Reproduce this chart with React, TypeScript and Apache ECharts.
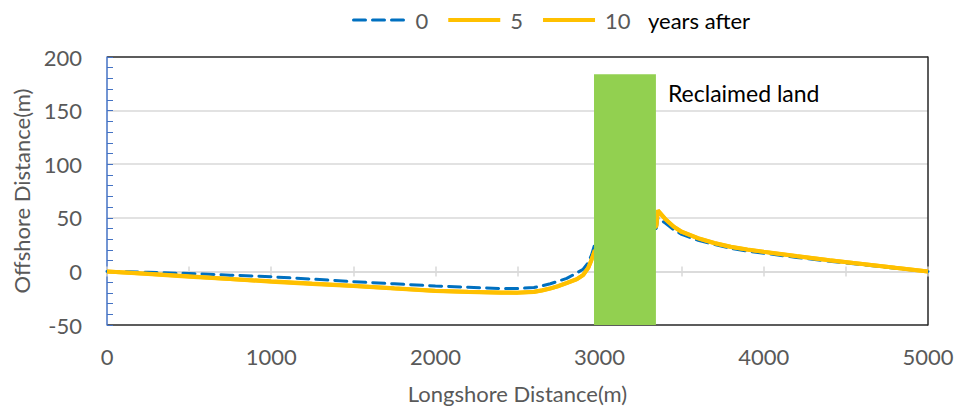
import React, { useEffect, useRef } from "react";
import * as echarts from "echarts";

const FONT = "Lato";

const longshore = [0, 250, 500, 750, 1000, 1250, 1500, 1750, 2000, 2200, 2400, 2500, 2600, 2650, 2700, 2750, 2800, 2860, 2900, 2930, 2950, 2970, 3345, 3355, 3400, 3450, 3500, 3600, 3700, 3800, 3900, 4000, 4200, 4400, 4600, 4800, 5000];
const year0 = [0, -0.8, -2, -3.5, -5, -7.2, -9.6, -11.6, -13.6, -14.8, -16, -16, -15, -13.5, -11.5, -9, -6.5, -1.5, 2, 8, 15, 25, 40, 50, 45, 39, 34.5, 29, 25, 21.5, 19, 17, 13, 9.5, 6.3, 3, 0];
const year5 = [0, -2.2, -4.6, -7, -9.3, -11.4, -13.3, -15.7, -18, -19, -19.7, -19.8, -19, -17.6, -15.8, -13.6, -10.8, -7.3, -3.3, 3.2, 10.5, 19, 42, 56.5, 48.7, 41.8, 36.8, 30.8, 26.3, 22.8, 20.3, 18.2, 14.1, 10.3, 6.9, 3.4, 0];
const year10 = [0, -2.4, -4.9, -7.2, -9.6, -11.7, -13.6, -16, -18.3, -19.3, -20, -20, -19.2, -17.8, -16, -13.8, -11, -7.5, -3.5, 3, 10.5, 19, 42, 57, 49, 42, 37, 31, 26.5, 23, 20.5, 18.4, 14.3, 10.5, 7, 3.5, 0];

const land = [2966, 3343, -50, 184];
const landLabel = "Reclaimed land";
const legendNames = ["0", "5", "10"];
const legendSuffix = "years after";

const BLUE = "#0070C0";
const YELLOW = "#FFC000";
const DASH = [12, 7];
const legendWidths = [3, 4, 4];

const pairs = (ys: number[]) => longshore.map((x, i) => [x, ys[i]]);

export default function App() {
  const ref = useRef<HTMLDivElement>(null);
  useEffect(() => {
    document.body.style.margin = "0";
    const chart = echarts.init(ref.current!, null, { renderer: "svg" });
    const labelStyle = { fontFamily: FONT, fontSize: 22, color: "#595959" };
    chart.setOption({
      animation: false,
      textStyle: { fontFamily: FONT },
      title: {
        text: legendSuffix,
        left: 648,
        top: 9,
        padding: 0,
        textStyle: { fontFamily: FONT, fontSize: 22, color: "#000", fontWeight: "normal" },
      },
      legend: {
        data: legendNames.map((n, i) => ({ name: n, lineStyle: { width: legendWidths[i] } })),
        left: 352,
        top: 9,
        padding: 0,
        itemWidth: 52,
        itemHeight: 14,
        itemGap: 18,
        itemStyle: { opacity: 0 },
        textStyle: { ...labelStyle, padding: [0, 0, 0, 5] },
      },
      grid: { left: 107, right: 29, top: 57, bottom: 85, containLabel: false },
      xAxis: [
        {
          type: "value",
          min: 0,
          max: 5000,
          interval: 1000,
          position: "bottom",
          axisLine: { show: false, onZero: false },
          axisTick: { show: false },
          splitLine: { show: false },
          axisLabel: { ...labelStyle, margin: 20, formatter: (v: number) => String(v) },
          name: "Longshore Distance(m)",
          nameLocation: "middle",
          nameGap: 57,
          nameTextStyle: labelStyle,
        },
        {
          type: "value",
          min: 0,
          max: 5000,
          interval: 500,
          position: "bottom",
          axisLine: { show: true, onZero: true, onZeroAxisIndex: 0, lineStyle: { color: "#D9D9D9", width: 1.5 } },
          axisTick: { show: true, inside: true, length: 5, lineStyle: { color: "#D9D9D9", width: 1.5 } },
          axisLabel: { show: false },
          splitLine: { show: false },
        },
        {
          type: "value",
          min: 0,
          max: 5000,
          interval: 500,
          position: "bottom",
          axisLine: { show: false, onZero: true, onZeroAxisIndex: 0 },
          axisTick: { show: true, inside: false, length: 5, lineStyle: { color: "#D9D9D9", width: 1.5 } },
          axisLabel: { show: false },
          splitLine: { show: false },
        },
      ],
      yAxis: [
        {
          type: "value",
          min: -50,
          max: 200,
          interval: 50,
          position: "left",
          axisLine: { show: true, onZero: false, lineStyle: { color: "#4472C4", width: 1.5 } },
          axisTick: { show: true, inside: true, length: 6, lineStyle: { color: "#4472C4", width: 1 } },
          minorTick: { show: true, splitNumber: 5, length: 6, lineStyle: { color: "#4472C4", width: 1 } },
          splitLine: {
            show: true,
            lineStyle: { color: ["#262626", "#D9D9D9", "#D9D9D9", "#D9D9D9", "#D9D9D9", "#262626"], width: 1.5 },
          },
          axisLabel: { ...labelStyle, margin: 25 },
          name: "Offshore Distance(m)",
          nameLocation: "middle",
          nameGap: 62,
          nameTextStyle: labelStyle,
        },
        {
          type: "value",
          min: -50,
          max: 200,
          interval: 50,
          position: "right",
          axisLine: { show: true, onZero: false, lineStyle: { color: "#262626", width: 1.5 } },
          axisTick: { show: false },
          axisLabel: { show: false },
          splitLine: { show: false },
        },
      ],
      series: [
        {
          name: "0",
          type: "line",
          data: pairs(year0),
          symbol: "none",
          itemStyle: { color: BLUE },
          lineStyle: { color: BLUE, width: 3, type: DASH, cap: "round" },
        },
        {
          name: "5",
          type: "line",
          data: pairs(year5),
          symbol: "none",
          itemStyle: { color: YELLOW },
          lineStyle: { color: YELLOW, width: 4 },
        },
        {
          name: "10",
          type: "line",
          data: pairs(year10),
          symbol: "none",
          itemStyle: { color: YELLOW },
          lineStyle: { color: YELLOW, width: 4 },
        },
        {
          name: "land",
          type: "custom",
          z: 10,
          silent: true,
          encode: { x: [0, 1], y: [2, 3] },
          data: [land],
          renderItem: (params: any, api: any) => {
            const p1 = api.coord([api.value(0), api.value(3)]);
            const p2 = api.coord([api.value(1), api.value(2)]);
            return {
              type: "group",
              children: [
                {
                  type: "rect",
                  shape: { x: p1[0], y: p1[1], width: p2[0] - p1[0], height: p2[1] - p1[1] },
                  style: { fill: "#92D050" },
                },
                {
                  type: "text",
                  x: p2[0] + 12,
                  y: p1[1] + 7,
                  style: {
                    text: landLabel,
                    fill: "#000",
                    fontSize: 23,
                    fontFamily: FONT,
                    align: "left",
                    verticalAlign: "top",
                  },
                },
              ],
            };
          },
        },
      ],
    });
    return () => chart.dispose();
  }, []);
  return <div ref={ref} style={{ width: 957, height: 410 }} />;
}
